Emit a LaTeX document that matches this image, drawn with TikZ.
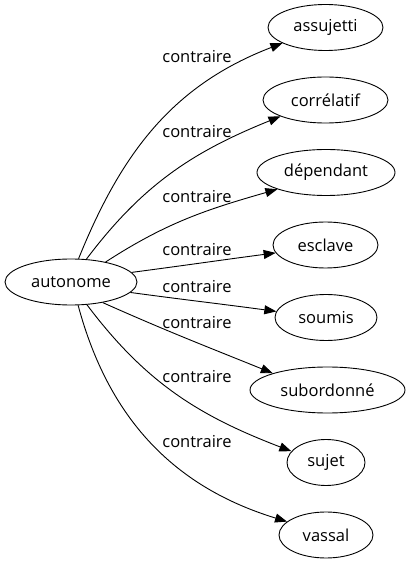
\documentclass[tikz,border=0pt]{standalone}
\usepackage{fontspec}
\setmainfont{Open Sans}
\usetikzlibrary{shapes.geometric,arrows.meta}
\begin{document}
\begin{tikzpicture}[x=1pt,y=1pt,
  wnode/.style={ellipse, draw, line width=0.9pt, minimum height=46pt, inner sep=0pt, font=\fontsize{16.5}{19}\selectfont},
  rel/.style={font=\fontsize{16.5}{19}\selectfont, inner sep=0pt},
  edge/.style={line width=0.9pt, -{Triangle[length=12pt,width=9pt]}}]
\useasboundingbox (0,0) rectangle (407,563);
\node[wnode, minimum width=132pt] (src) at (71,281) {autonome};
\node[wnode, minimum width=115pt] (t1) at (325.5,535.5) {assujetti};
\node[wnode, minimum width=125pt] (t2) at (325.5,463) {corrélatif};
\node[wnode, minimum width=138pt] (t3) at (326,390.5) {dépendant};
\node[wnode, minimum width=105pt] (t4) at (325.5,318) {esclave};
\node[wnode, minimum width=102pt] (t5) at (326,245.5) {soumis};
\node[wnode, minimum width=155pt] (t6) at (327.5,173) {subordonné};
\node[wnode, minimum width=78pt] (t7) at (326,100.5) {sujet};
\node[wnode, minimum width=94pt] (t8) at (326,28) {vassal};
\node[rel] (l1) at (197,506) {contraire};
\node[rel] (l2) at (197,431) {contraire};
\node[rel] (l3) at (197,366) {contraire};
\node[rel] (l4) at (197,313) {contraire};
\node[rel] (l5) at (197,276) {contraire};
\node[rel] (l6) at (197,240) {contraire};
\node[rel] (l7) at (197,186) {contraire};
\node[rel] (l8) at (197,121) {contraire};
\draw[edge] (src.72) to[out=68,in=201] (t1.200);
\draw[edge] (src.56) to[out=53,in=202] (t2.200);
\draw[edge] (src.30) to[out=33,in=196] (t3.199);
\draw[edge] (src.9) to[out=7.5,in=187.5] (t4.189);
\draw[edge] (src.-10) to[out=-7.7,in=172.3] (t5.173.5);
\draw[edge] (src.-33) to[out=-24,in=158] (t6.163);
\draw[edge] (src.-55) to[out=-53,in=159] (t7.162);
\draw[edge] (src.-73) to[out=-75,in=163] (t8.161.5);
\end{tikzpicture}
\end{document}
